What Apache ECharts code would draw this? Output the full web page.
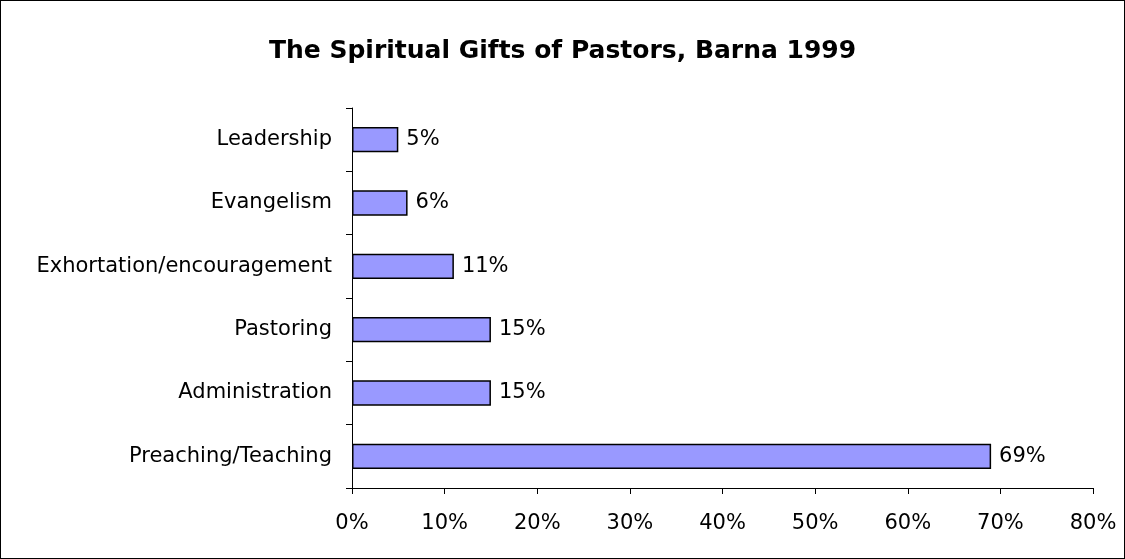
<!DOCTYPE html>
<html>
<head>
<meta charset="utf-8">
<script src="https://cdn.jsdelivr.net/npm/echarts@6/dist/echarts.min.js"></script>
<style>
  html, body { margin: 0; padding: 0; background: #fff; }
  #chart { width: 1125px; height: 559px; box-sizing: border-box; border: 1px solid #000; }
</style>
</head>
<body>
<div id="chart"></div>
<script>
// Gifts listed bottom-to-top (category axis starts at the bottom)
const categories = ['Preaching/Teaching', 'Administration', 'Pastoring', 'Exhortation/encouragement', 'Evangelism', 'Leadership'];
const percentages = [69, 15, 15, 11, 6, 5];
const xTicks = [0, 10, 20, 30, 40, 50, 60, 70, 80];

const font = '"DejaVu Sans", "Liberation Sans", Arial, sans-serif';
const chart = echarts.init(document.getElementById('chart'));

chart.setOption({
  animation: false,
  title: {
    text: 'The Spiritual Gifts of Pastors, Barna 1999',
    left: 'center',
    top: 33,
    textStyle: { fontFamily: font, fontSize: 25, fontWeight: 'bold', color: '#000' }
  },
  grid: { left: 351, right: 31, top: 107, bottom: 70, containLabel: false },
  xAxis: {
    type: 'value',
    min: xTicks[0],
    max: xTicks[xTicks.length - 1],
    interval: 10,
    axisLine: { show: true, lineStyle: { color: '#000', width: 1 } },
    axisTick: { show: true, length: 6, lineStyle: { color: '#000' } },
    splitLine: { show: false },
    axisLabel: { formatter: '{value}%', fontFamily: font, fontSize: 21, color: '#000', margin: 25 }
  },
  yAxis: {
    type: 'category',
    data: categories,
    axisLine: { show: true, lineStyle: { color: '#000', width: 1 } },
    axisTick: { show: true, length: 6, lineStyle: { color: '#000' } },
    axisLabel: { fontFamily: font, fontSize: 21, color: '#000', margin: 20 }
  },
  series: [{
    type: 'bar',
    data: percentages,
    barWidth: '40%',
    itemStyle: { color: '#9999FF', borderColor: '#000', borderWidth: 1.5 },
    label: {
      show: true,
      position: 'right',
      distance: 8,
      formatter: '{c}%',
      fontFamily: font,
      fontSize: 21,
      color: '#000'
    }
  }]
});
</script>
</body>
</html>
